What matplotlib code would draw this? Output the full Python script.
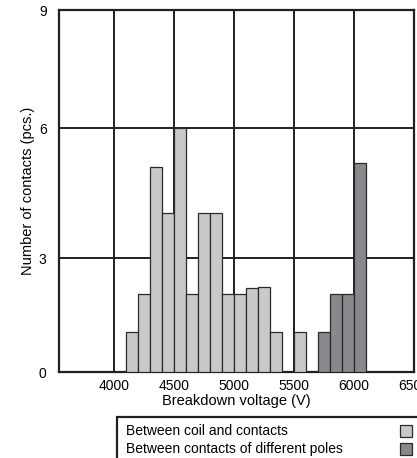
import matplotlib
matplotlib.use("Agg")
import numpy as np
import matplotlib.pyplot as plt
from matplotlib.patches import Rectangle

plt.rcParams.update({
    "font.family": ["Liberation Sans", "DejaVu Sans"],
    "font.size": 10,
})

# ==============================
# Data (bin start voltage, count)
# ==============================

coil_bins = [4100, 4200, 4300, 4400, 4500, 4600, 4700, 4800, 4900,
             5000, 5100, 5200, 5300, 5500]
coil_counts = [1.05, 2.05, 5.1, 4.05, 6.0, 2.05, 4.05, 4.05, 2.05,
               2.05, 2.2, 2.25, 1.05, 1.05]

poles_bins = [5700, 5800, 5900, 6000]
poles_counts = [1.05, 2.05, 2.05, 5.2]

x_ticks = [4000, 4500, 5000, 5500, 6000, 6500]
y_ticks = [0, 3, 6, 9]

labels = ["Between coil and contacts", "Between contacts of different poles"]

LIGHT = "#c8c9cb"
DARK = "#88898d"
EDGE = "#2a2a2a"
LINE = "#231f20"

# the printed y axis is slightly uneven between gridlines
Y_SPACING = [0, 114, 244, 362]


def y_fwd(v):
    return np.interp(v, y_ticks, Y_SPACING, left=-1e3, right=1e3)


def y_inv(v):
    return np.interp(v, Y_SPACING, y_ticks, left=-1e3, right=1e3)


# ==============================
# Plot
# ==============================

W, H = 417, 458
fig = plt.figure(figsize=(W / 100, H / 100), dpi=100)
ax = fig.add_axes([59 / W, 1 - 372 / H, (414 - 59) / W, (372 - 10) / H])

ax.bar(coil_bins, coil_counts, width=100, align="edge",
       color=LIGHT, edgecolor=EDGE, linewidth=0.9, zorder=3)
ax.bar(poles_bins, poles_counts, width=100, align="edge",
       color=DARK, edgecolor=EDGE, linewidth=0.9, zorder=3)

ax.set_yscale("function", functions=(y_fwd, y_inv))
ax.set_xlim(3540, 6500)
ax.set_ylim(0, 9)
ax.set_xticks(x_ticks)
ax.set_yticks(y_ticks)
ax.tick_params(length=0, pad=5, labelsize=10)
ax.tick_params(axis="y", pad=9)
ax.grid(True, color=LINE, linewidth=1.4, zorder=1)
ax.set_axisbelow(True)
for s in ax.spines.values():
    s.set_color(LINE)
    s.set_linewidth(1.6)

ax.set_xlabel("Breakdown voltage (V)", fontsize=10.5, labelpad=1)
ax.set_ylabel("Number of contacts (pcs.)", fontsize=10.5, labelpad=3)

# legend box, partly cut off at the figure edge like the original
def fx(px):
    return px / W

def fy(py):
    return 1 - py / H

box = Rectangle((fx(117), fy(470)), fx(320), fy(417) - fy(470),
                transform=fig.transFigure, facecolor="white",
                edgecolor=LINE, linewidth=1.6, clip_on=False)
fig.patches.append(box)

for i, (lab, col) in enumerate(zip(labels, [LIGHT, DARK])):
    yc = 431 + i * 18
    fig.text(fx(126), fy(yc), lab, fontsize=10, va="center", ha="left")
    fig.patches.append(Rectangle((fx(400), fy(yc + 6)), fx(12), fy(yc - 6) - fy(yc + 6),
                                 transform=fig.transFigure, facecolor=col,
                                 edgecolor=EDGE, linewidth=0.9))

fig.savefig("out.png", dpi=100)
